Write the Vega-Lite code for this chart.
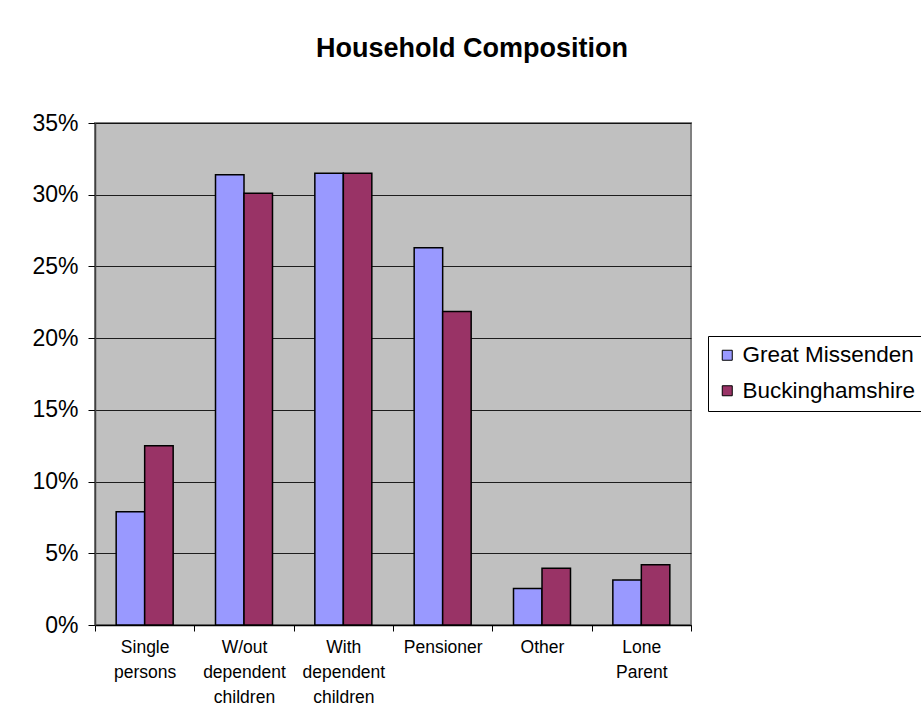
{
  "$schema": "https://vega.github.io/schema/vega-lite/v6.json",
  "autosize": {"type": "none"},
  "width": 596,
  "height": 502,
  "padding": {"left": 95, "top": 123, "right": 230, "bottom": 103},
  "background": "white",
  "title": {
    "text": "Household Composition",
    "font": "Liberation Sans",
    "fontSize": 27,
    "fontWeight": "bold",
    "color": "black",
    "anchor": "middle",
    "dx": 79,
    "offset": 49
  },
  "data": {
    "values": [
      {"category": "Single persons", "area": "Great Missenden", "value": 0.079},
      {"category": "Single persons", "area": "Buckinghamshire", "value": 0.125},
      {"category": "W/out dependent children", "area": "Great Missenden", "value": 0.314},
      {"category": "W/out dependent children", "area": "Buckinghamshire", "value": 0.301},
      {"category": "With dependent children", "area": "Great Missenden", "value": 0.315},
      {"category": "With dependent children", "area": "Buckinghamshire", "value": 0.315},
      {"category": "Pensioner", "area": "Great Missenden", "value": 0.263},
      {"category": "Pensioner", "area": "Buckinghamshire", "value": 0.2185},
      {"category": "Other", "area": "Great Missenden", "value": 0.0255},
      {"category": "Other", "area": "Buckinghamshire", "value": 0.0395},
      {"category": "Lone Parent", "area": "Great Missenden", "value": 0.0313},
      {"category": "Lone Parent", "area": "Buckinghamshire", "value": 0.042}
    ]
  },
  "mark": {"type": "bar", "stroke": "black", "strokeWidth": 1.5},
  "encoding": {
    "x": {
      "field": "category",
      "type": "nominal",
      "sort": null,
      "scale": {"paddingInner": 0, "paddingOuter": 0},
      "axis": {
        "title": null,
        "labelAngle": 0,
        "labelExpr": "split(datum.label, ' ')",
        "labelFont": "Liberation Sans",
        "labelFontSize": 17.5,
        "labelLineHeight": 25,
        "labelColor": "black",
        "labelPadding": 7,
        "tickBand": "extent",
        "tickColor": "black",
        "tickSize": 6,
        "domainColor": "black",
        "domainWidth": 1.5
      }
    },
    "xOffset": {
      "field": "area",
      "type": "nominal",
      "sort": ["Great Missenden", "Buckinghamshire"],
      "scale": {"paddingInner": 0, "paddingOuter": 0.743}
    },
    "y": {
      "field": "value",
      "type": "quantitative",
      "scale": {"domain": [0, 0.35], "nice": false},
      "axis": {
        "title": null,
        "format": ".0%",
        "values": [0, 0.05, 0.1, 0.15, 0.2, 0.25, 0.3, 0.35],
        "labelFont": "Liberation Sans",
        "labelFontSize": 23,
        "labelColor": "black",
        "labelPadding": 10,
        "tickColor": "black",
        "tickSize": 7,
        "domainColor": "#404040",
        "domainWidth": 1.5,
        "gridColor": "black",
        "gridWidth": 1,
        "gridOpacity": 0.85
      }
    },
    "color": {
      "field": "area",
      "type": "nominal",
      "sort": ["Great Missenden", "Buckinghamshire"],
      "scale": {"domain": ["Great Missenden", "Buckinghamshire"], "range": ["#9999FF", "#993366"]},
      "legend": {
        "title": null,
        "orient": "none",
        "legendX": 613,
        "legendY": 213,
        "strokeColor": "black",
        "padding": 8,
        "symbolType": "square",
        "symbolSize": 100,
        "symbolStrokeColor": "black",
        "symbolStrokeWidth": 1,
        "labelFont": "Liberation Sans",
        "labelFontSize": 22.5,
        "labelColor": "black",
        "labelOffset": 4,
        "rowPadding": 12.5,
        "labelLimit": 400
      }
    }
  },
  "config": {
    "view": {"fill": "#C0C0C0", "stroke": "#808080", "strokeWidth": 2}
  }
}
